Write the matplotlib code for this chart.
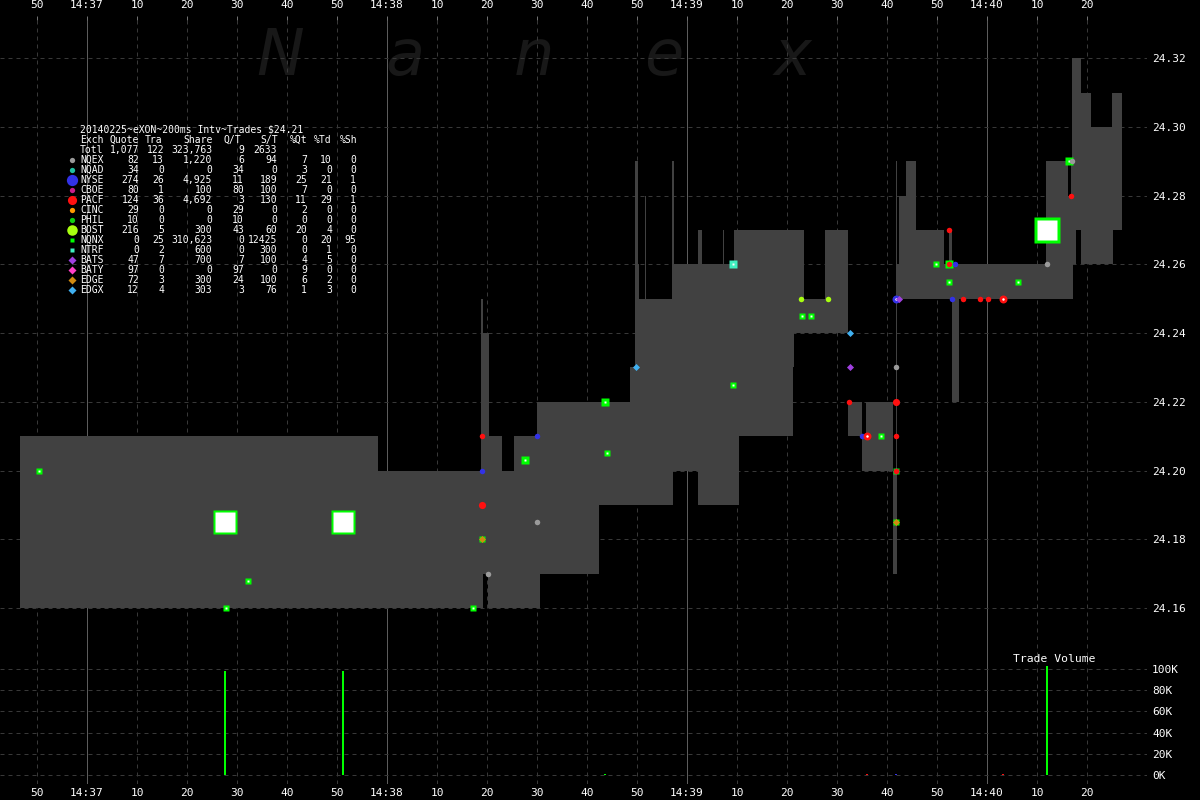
import numpy as np
import matplotlib
matplotlib.use("Agg")
import matplotlib.pyplot as plt

# ---------------- NBBO (seconds after 14:37:00, best bid, best ask) ----------------
nbbo_t = [-13.4, 58.2, 78.8, 79.2, 80.2, 80.4, 83.0, 85.4, 90.0, 90.6, 102.4,
          108.6, 109.6, 110.2, 110.4, 111.6, 111.8, 117.0, 117.2, 117.4, 122.2,
          123.0, 127.2, 127.4, 129.4, 130.4, 141.2, 141.4, 143.4, 147.6, 152.2,
          155.0, 155.8, 161.2, 161.7, 161.9, 162.4, 163.8, 165.8, 171.4, 172.4,
          173.0, 174.4, 191.8, 196.2, 196.8, 197.0, 197.2, 197.8, 198.8, 200.8,
          205.0, 205.2]
nbbo_bid = [24.16, 24.16, 24.16, 24.17, 24.16, 24.16, 24.16, 24.16, 24.16, 24.17, 24.19,
            24.19, 24.19, 24.19, 24.19, 24.19, 24.19, 24.19, 24.20, 24.20, 24.19,
            24.19, 24.19, 24.19, 24.19, 24.21, 24.23, 24.24, 24.24, 24.24, 24.21,
            24.20, 24.20, 24.17, 24.17, 24.25, 24.25, 24.25, 24.25, 24.25, 24.25,
            24.22, 24.25, 24.25, 24.25, 24.25, 24.25, 24.26, 24.27, 24.26, 24.26,
            24.26, 24.27]
nbbo_ask = [24.21, 24.20, 24.25, 24.24, 24.24, 24.21, 24.20, 24.21, 24.22, 24.22, 24.22,
            24.23, 24.29, 24.26, 24.25, 24.28, 24.25, 24.29, 24.29, 24.26, 24.27,
            24.26, 24.27, 24.26, 24.27, 24.27, 24.27, 24.27, 24.25, 24.27, 24.22,
            24.21, 24.22, 24.20, 24.29, 24.26, 24.28, 24.29, 24.27, 24.26, 24.27,
            24.26, 24.26, 24.29, 24.28, 24.29, 24.32, 24.32, 24.32, 24.31, 24.30,
            24.31, 24.31]
nbbo_end = 207.0

# ---------------- Trades (seconds after 14:37:00, price, exchange, shares) ----------------
trade_t = [-9.5, 27.6, 27.7, 32.2, 51.2, 77.2, 78.9, 78.9, 78.9, 78.9, 78.9, 80.2,
           87.6, 90.0, 89.9, 103.5, 103.9, 109.7, 129.1, 129.1, 142.8, 148.2, 142.9,
           144.7, 152.5, 152.5, 152.4, 155.0, 155.9, 158.7, 161.7, 161.8, 161.8, 161.8,
           162.4, 161.7, 161.7, 161.7, 161.7, 161.7, 169.7, 172.3, 172.3, 173.5, 172.4,
           172.3, 172.9, 175.2, 178.5, 180.1, 183.1, 186.1, 191.9, 191.9, 196.3, 196.9,
           196.7]
trade_px = [24.200, 24.185, 24.160, 24.168, 24.185, 24.160, 24.210, 24.200, 24.190,
            24.180, 24.180, 24.170, 24.203, 24.210, 24.185, 24.220, 24.205, 24.230,
            24.225, 24.260, 24.250, 24.250, 24.245, 24.245, 24.240, 24.230, 24.220,
            24.210, 24.210, 24.210, 24.210, 24.220, 24.230, 24.250, 24.250, 24.200,
            24.200, 24.200, 24.185, 24.185, 24.260, 24.260, 24.260, 24.260, 24.270,
            24.255, 24.250, 24.250, 24.250, 24.250, 24.250, 24.255, 24.260, 24.270,
            24.290, 24.290, 24.280]
trade_ex = ["NQNX", "NQNX", "NQNX", "NQNX", "NQNX", "NQNX", "PACF", "NYSE", "PACF",
            "EDGE", "NQNX", "NQEX", "NQNX", "NYSE", "NQEX", "NQNX", "NQNX", "EDGX",
            "NQNX", "NTRF", "BOST", "BOST", "NQNX", "NQNX", "EDGX", "BATS", "PACF",
            "NYSE", "PACF", "NQNX", "PACF", "PACF", "NQEX", "NYSE", "BATS", "NYSE",
            "PACF", "NQNX", "EDGE", "NQNX", "NQNX", "NQNX", "PACF", "NYSE", "PACF",
            "NQNX", "NYSE", "PACF", "PACF", "PACF", "PACF", "NQNX", "NQEX", "NQNX",
            "NQNX", "NQEX", "PACF"]
trade_sh = [100, 98000, 100, 200, 98000, 100, 100, 100, 300, 100, 100, 100,
            300, 100, 100, 500, 100, 100, 100, 300, 100, 100, 100, 100, 100, 100, 100,
            100, 500, 100, 100, 300, 100, 500, 100, 100, 100, 100, 100, 100, 100, 300,
            100, 100, 100, 100, 100, 100, 100, 100, 500, 100, 100, 103000, 300, 100, 100]

# ---------------- Exchange summary table ----------------
exch = ["NQEX", "NQAD", "NYSE", "CBOE", "PACF", "CINC", "PHIL", "BOST",
        "NQNX", "NTRF", "BATS", "BATY", "EDGE", "EDGX"]
quotes = [82, 34, 274, 80, 124, 29, 10, 216, 0, 0, 47, 97, 72, 12]
trades = [13, 0, 26, 1, 36, 0, 0, 5, 25, 2, 7, 0, 3, 4]
shares = [1220, 0, 4925, 100, 4692, 0, 0, 300, 310623, 600, 700, 0, 300, 303]
q_per_t = [6, 34, 11, 80, 3, 29, 10, 43, 0, 0, 7, 97, 24, 3]
s_per_t = [94, 0, 189, 100, 130, 0, 0, 60, 12425, 300, 100, 0, 100, 76]
pct_qt = [7, 3, 25, 7, 11, 2, 0, 20, 0, 0, 4, 9, 6, 1]
pct_td = [10, 0, 21, 0, 29, 0, 0, 4, 20, 1, 5, 0, 2, 3]
pct_sh = [0, 0, 1, 0, 1, 0, 0, 0, 95, 0, 0, 0, 0, 0]
total_quotes, total_trades, total_shares, total_qt, total_st = 1077, 122, 323763, 9, 2633
title = "20140225~eXON~200ms Intv~Trades $24.21"
headers = ["Exch", "Quote", "Tra", "Share", "Q/T", "S/T", "%Qt", "%Td", "%Sh"]

price_ticks = [24.16, 24.18, 24.20, 24.22, 24.24, 24.26, 24.28, 24.30, 24.32]
vol_ticks = [0, 20000, 40000, 60000, 80000, 100000]
time_ticks = list(range(-10, 201, 10))

ex_color = {"NQEX": "#9a9a9a", "NQAD": "#20c0a0", "NYSE": "#3232e6", "CBOE": "#c8208c",
            "PACF": "#ff1010", "CINC": "#ff9a00", "PHIL": "#10d010", "BOST": "#a8ff10",
            "NQNX": "#00ff00", "NTRF": "#40f0c0", "BATS": "#a040e0", "BATY": "#ff40c8",
            "EDGE": "#d08a10", "EDGX": "#40b0f0"}
ex_shape = {e: "o" for e in exch}
ex_shape.update({"NQNX": "s", "NTRF": "s", "BATS": "D", "BATY": "D", "EDGE": "D", "EDGX": "D"})

# ---------------- Figure ----------------
W, H = 1200, 800
PX = 72.0 / 100.0  # points per pixel
fig = plt.figure(figsize=(12, 8), dpi=100, facecolor="black")
MONO = "DejaVu Sans Mono"


def box(l, t, r, b):
    return [l / W, 1 - b / H, (r - l) / W, (b - t) / H]


ax = fig.add_axes(box(0, 20, 1147, 640), facecolor="black")
axv = fig.add_axes(box(0, 640, 1147, 784), facecolor="none")

xlim = (-17.4, 212.0)
for a in (ax, axv):
    a.set_xlim(*xlim)
    for s in a.spines.values():
        s.set_visible(False)
    for t in time_ticks:
        if t % 60 == 0:
            a.axvline(t, color="#5c5c5c", lw=1.0 * PX, zorder=0.6)
        else:
            a.axvline(t, color="#383838", lw=1.0 * PX, ls=(0, (4, 4)), zorder=0.6)

ax.set_ylim(24.1507, 24.3311)
axv.set_ylim(-8500, 127400)
for p in price_ticks:
    ax.axhline(p, color="#383838", lw=1.0 * PX, ls=(0, (4, 4)), zorder=0.6)
for v in vol_ticks:
    axv.axhline(v, color="#383838", lw=1.0 * PX, ls=(0, (4, 4)), zorder=0.6)


def tlabel(t):
    if t % 60 == 0:
        return "14:%02d" % (37 + t // 60)
    return "%02d" % (t % 60)


# top time axis
ax.xaxis.tick_top()
ax.set_xticks(time_ticks)
ax.set_xticklabels([tlabel(t) for t in time_ticks], fontfamily=MONO, fontsize=8, color="white")
ax.tick_params(axis="x", direction="out", length=4 * PX, width=1 * PX, color="#707070", pad=6 * PX)
# bottom time axis
axv.set_xticks(time_ticks)
axv.set_xticklabels([tlabel(t) for t in time_ticks], fontfamily=MONO, fontsize=8, color="white")
axv.tick_params(axis="x", length=0, pad=4 * PX)

# right price/volume labels
ax.yaxis.tick_right()
ax.set_yticks(price_ticks)
ax.set_yticklabels(["%.2f" % p for p in price_ticks], fontfamily=MONO, fontsize=8, color="white")
ax.tick_params(axis="y", length=0, pad=5 * PX)
axv.yaxis.tick_right()
axv.set_yticks(vol_ticks)
axv.set_yticklabels(["%dK" % (v // 1000) for v in vol_ticks], fontfamily=MONO, fontsize=8, color="white")
axv.tick_params(axis="y", length=0, pad=5 * PX)

# watermark
for ch, xc in zip("Nanex", [280, 405, 534, 664, 793]):
    ax.text(xc / W, 1 - 75 / H, ch, transform=fig.transFigure, ha="center", va="baseline",
            fontsize=46, style="italic", family="DejaVu Sans", color="#181818", zorder=0.5,
            clip_on=False)

# NBBO spread
tt = np.array(nbbo_t + [nbbo_end])
bb = np.array(nbbo_bid + [nbbo_bid[-1]])
aa = np.array(nbbo_ask + [nbbo_ask[-1]])
ax.fill_between(tt, bb, aa, step="post", color="#414141", lw=0, zorder=2)

# trades
for t, p, e, sh in zip(trade_t, trade_px, trade_ex, trade_sh):
    c = ex_color[e]
    shape = ex_shape[e]
    if shape == "s":
        side = 6 + 19 * np.sqrt(sh / 100000.0)
        z = 4 if sh < 10000 else 3
        ax.plot(t, p, "s", ms=side * PX, mfc=c, mec="none", zorder=z)
        ax.plot(t, p, "s", ms=max(side - 4.5, 1.5) * PX, mfc="white", mec="none", zorder=z)
    else:
        d = 5.5 + 3.5 * np.log10(sh / 100.0)
        if shape == "D":
            d -= 0.5
        ax.plot(t, p, shape, ms=d * PX, mfc=c, mec="none", zorder=5)
        if sh >= 500:
            ax.plot(t, p, shape, ms=2.5 * PX, mfc="white", mec="none", zorder=5)
    axv.vlines(t, 0, sh, color=c, lw=2 * PX, zorder=3)

fig.text(1013 / W, 1 - 659 / H, "Trade Volume", fontfamily=MONO, fontsize=8.2,
         color="white", va="center", ha="left")

# ---------------- summary table ----------------
fs = 7.0
head_left = [80, 110, 145, 183, 223, 260, 290, 314, 340]
col_right = [139, 164, 212, 244, 277, 307, 332, 356]


def put(x, y, s, ha="left"):
    fig.text(x / W, 1 - y / H, s, fontfamily=MONO, fontsize=fs, color="white",
             va="center", ha=ha)


put(80, 130, title)
for hx, hname in zip(head_left, headers):
    put(hx, 140, hname)
put(80, 150, "Totl")
for cx, v in zip(col_right[:5], [format(total_quotes, ","), str(total_trades),
                                 format(total_shares, ","), str(total_qt), str(total_st)]):
    put(cx, 150, v, ha="right")

for i, e in enumerate(exch):
    y = 160 + 10 * i
    put(80, y, e)
    vals = [format(quotes[i], ","), str(trades[i]), format(shares[i], ","), str(q_per_t[i]),
            str(s_per_t[i]), str(pct_qt[i]), str(pct_td[i]), str(pct_sh[i])]
    for cx, v in zip(col_right, vals):
        put(cx, y, v, ha="right")
    d = 5.3 if pct_qt[i] < 10 else 7.5 + 0.15 * pct_qt[i]
    if ex_shape[e] == "D":
        d = 6.0
    if ex_shape[e] == "s":
        d = 5.0
    fig.lines.append(plt.Line2D([72 / W], [1 - y / H], transform=fig.transFigure,
                                marker=ex_shape[e], ms=d * PX, mfc=ex_color[e], mec="none",
                                ls="none"))

fig.savefig("out.png", dpi=100, facecolor="black")
